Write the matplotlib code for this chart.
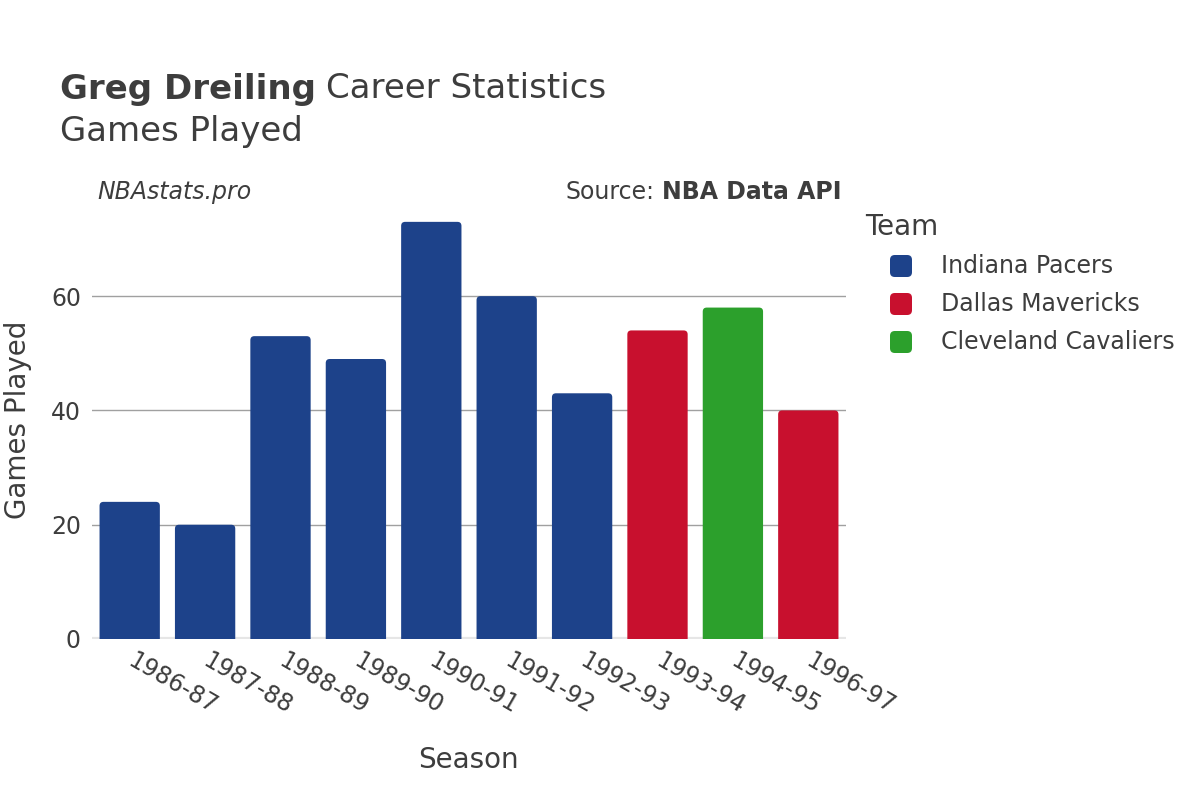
import matplotlib
matplotlib.use("Agg")
import matplotlib.pyplot as plt
from matplotlib.patches import FancyBboxPatch

seasons = ["1986-87", "1987-88", "1988-89", "1989-90", "1990-91",
           "1991-92", "1992-93", "1993-94", "1994-95", "1996-97"]
games = [24, 20, 53, 49, 73, 60, 43, 54, 58, 40]
teams = ["Indiana Pacers"] * 7 + ["Dallas Mavericks", "Cleveland Cavaliers", "Dallas Mavericks"]
team_order = ["Indiana Pacers", "Dallas Mavericks", "Cleveland Cavaliers"]
team_colors = {"Indiana Pacers": "#1d428a",
               "Dallas Mavericks": "#c8102e",
               "Cleveland Cavaliers": "#2ca02c"}

TXT = "#3d3d3d"
plt.rcParams['font.family'] = ['DejaVu Sans']

fig = plt.figure(figsize=(12, 8), dpi=100)
ax = fig.add_axes([92 / 1200, 1 - 639 / 800, (846 - 92) / 1200, (639 - 201) / 800])

ymax = max(games) * 1.05
ax.set_xlim(-0.5, len(seasons) - 0.5)
ax.set_ylim(0, ymax)

# rounded bars, start below zero so only the top corners show
px_x = (846 - 92) / len(seasons)
px_y = (639 - 201) / ymax
r = 4 / px_x
for i, (g, t) in enumerate(zip(games, teams)):
    p = FancyBboxPatch((i - 0.4, -3), 0.8, g + 3,
                       boxstyle=f"round,pad=0,rounding_size={r}",
                       mutation_aspect=px_x / px_y,
                       facecolor=team_colors[t], edgecolor="none", zorder=3)
    ax.add_patch(p)

ax.set_yticks([0, 20, 40, 60])
ax.grid(axis="y", color="#a0a0a0", linewidth=1, zorder=1)
ax.axhline(0, color="#e6e6e6", linewidth=3, zorder=2)
ax.set_xticks(range(len(seasons)))
ax.set_xticklabels(seasons, rotation=-30, ha="left", va="center",
                   rotation_mode="anchor", fontsize=17, color=TXT)
ax.tick_params(axis="x", length=0, pad=14)
ax.tick_params(axis="y", length=0, pad=8, labelsize=17, labelcolor=TXT)
for s in ax.spines.values():
    s.set_visible(False)

renderer = fig.canvas.get_renderer()


def right_edge(t):
    return t.get_window_extent(renderer).x1 / 1200


t1 = fig.text(60 / 1200, 1 - 89 / 800, "Greg Dreiling", fontsize=24.5, fontweight="bold",
              color=TXT, va="center", ha="left")
fig.text(right_edge(t1) + 10 / 1200, 1 - 89 / 800, "Career Statistics", fontsize=24.5,
         color=TXT, va="center", ha="left")
fig.text(60 / 1200, 1 - 132 / 800, "Games Played", fontsize=24.5,
         color=TXT, va="center", ha="left")

fig.text(97 / 1200, 1 - 192 / 800, "NBAstats.pro", fontsize=17, style="italic",
         color=TXT, va="center", ha="left")
t2 = fig.text(842 / 1200, 1 - 192 / 800, "NBA Data API", fontsize=17, fontweight="bold",
              color=TXT, va="center", ha="right")
x0 = t2.get_window_extent(renderer).x0 / 1200
fig.text(x0 - 8 / 1200, 1 - 192 / 800, "Source:", fontsize=17,
         color=TXT, va="center", ha="right")

fig.text(18 / 1200, 1 - 420 / 800, "Games Played", fontsize=20, rotation=90,
         color=TXT, va="center", ha="center")
fig.text(468 / 1200, 1 - 760 / 800, "Season", fontsize=20,
         color=TXT, va="center", ha="center")

# legend
fig.text(865 / 1200, 1 - 227 / 800, "Team", fontsize=20, color=TXT,
         va="center", ha="left")
for k, name in enumerate(team_order):
    y = 266 + 38 * k
    fig.patches.append(FancyBboxPatch((890 / 1200, 1 - (y + 11) / 800), 22 / 1200, 22 / 800,
                                      boxstyle="round,pad=0,rounding_size=0.004",
                                      transform=fig.transFigure, facecolor=team_colors[name],
                                      edgecolor="none", mutation_aspect=1.5, figure=fig))
    fig.text(941 / 1200, 1 - y / 800, name, fontsize=17, color=TXT,
             va="center", ha="left")

fig.savefig("out.png", dpi=100)
